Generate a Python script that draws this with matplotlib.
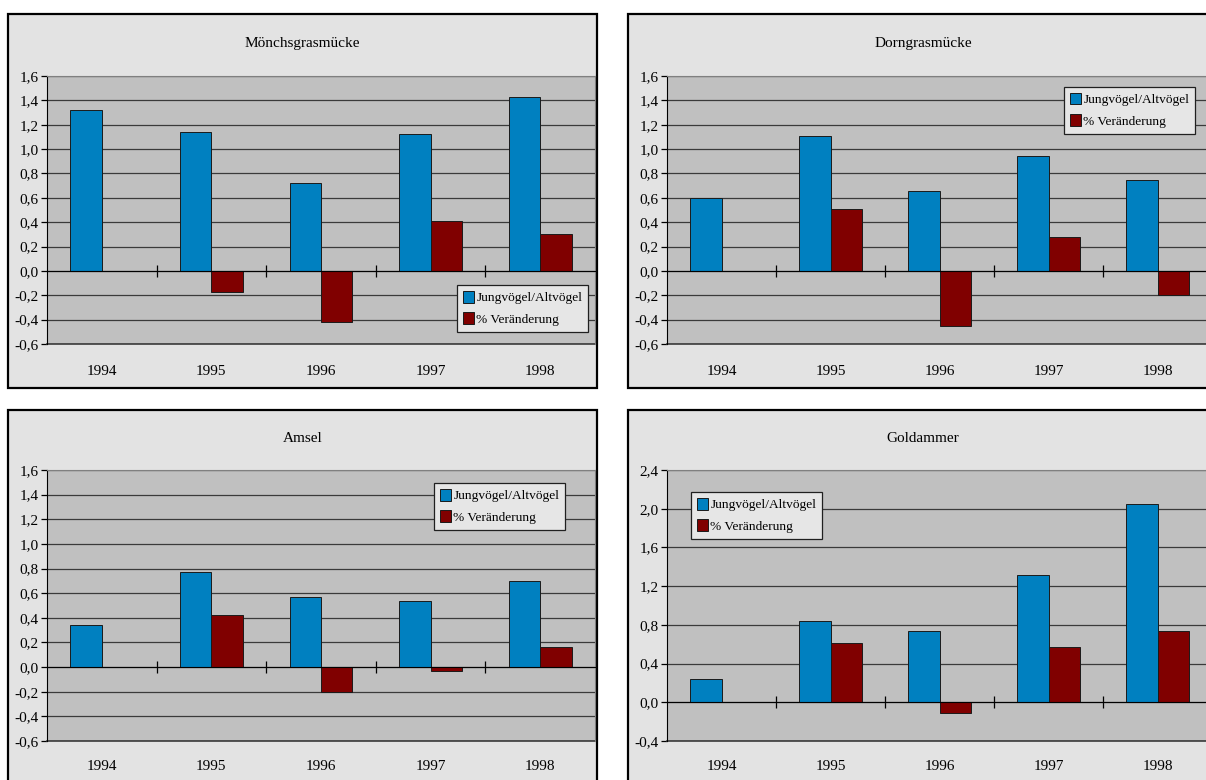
import numpy as np
import matplotlib.pyplot as plt
from matplotlib.patches import Rectangle

plt.rcParams['font.family'] = ['Liberation Serif', 'DejaVu Serif']
plt.rcParams['font.size'] = 11

# data
years = ['1994', '1995', '1996', '1997', '1998']
series_names = ['Jungvögel/Altvögel', '% Veränderung']

moench_ratio = [1.32, 1.14, 0.72, 1.12, 1.43]
moench_change = [np.nan, -0.17, -0.42, 0.41, 0.30]

dorn_ratio = [0.60, 1.11, 0.66, 0.94, 0.75]
dorn_change = [np.nan, 0.51, -0.45, 0.28, -0.20]

amsel_ratio = [0.34, 0.77, 0.57, 0.54, 0.70]
amsel_change = [np.nan, 0.42, -0.20, -0.03, 0.16]

gold_ratio = [0.24, 0.84, 0.74, 1.31, 2.05]
gold_change = [np.nan, 0.61, -0.11, 0.57, 0.74]

ticks_a = [-0.6, -0.4, -0.2, 0.0, 0.2, 0.4, 0.6, 0.8, 1.0, 1.2, 1.4, 1.6]
labels_a = ['-0,6', '-0,4', '-0,2', '0,0', '0,2', '0,4', '0,6', '0,8',
            '1,0', '1,2', '1,4', '1,6']
ticks_b = [-0.4, 0.0, 0.4, 0.8, 1.2, 1.6, 2.0, 2.4]
labels_b = ['-0,4', '0,0', '0,4', '0,8', '1,2', '1,6', '2,0', '2,4']

BLUE = '#0080C0'
RED = '#800000'
CHART_BG = '#E3E3E3'
PLOT_BG = '#C0C0C0'
GRID = '#3a3a3a'

W, H = 1206, 780
fig = plt.figure(figsize=(W / 100, H / 100), dpi=100)
fig.patch.set_facecolor('white')


def fig_box(l, t, r, b):
    # pixel box (from top-left) -> figure fraction [x0, y0, w, h]
    return [l / W, 1 - b / H, (r - l) / W, (b - t) / H]


def draw_panel(title, ratio, change, ticks, ticklabels,
               frame, plot, title_y, legend_xy, label_pad):
    fl, ft, fr, fb = frame
    x0, y0, w, h = fig_box(*frame)
    fig.add_artist(Rectangle((x0, y0), w, h, transform=fig.transFigure,
                             facecolor=CHART_BG, edgecolor='black',
                             linewidth=1.6, zorder=-5))
    fig.text((fl + fr) / 2 / W, 1 - title_y / H, title,
             ha='center', va='center', fontsize=11)

    ax = fig.add_axes(fig_box(*plot))
    ax.set_facecolor(PLOT_BG)
    x = np.arange(len(years))
    bw = 1 / 3.5
    b1 = ax.bar(x - bw / 2, ratio, bw, color=BLUE, edgecolor='#1a1a1a',
                linewidth=0.7, zorder=3)
    b2 = ax.bar(x + bw / 2, change, bw, color=RED, edgecolor='#1a1a1a',
                linewidth=0.7, zorder=3)

    ax.set_xlim(-0.5, len(years) - 0.5)
    ax.set_ylim(ticks[0], ticks[-1])
    ax.set_yticks(ticks, ticklabels)
    ax.yaxis.grid(True, color=GRID, linewidth=0.9)
    ax.axhline(ticks[0], color=GRID, linewidth=1.2, clip_on=False)
    ax.set_axisbelow(True)
    ax.tick_params(axis='y', direction='out', length=4, width=0.9, pad=2)

    # category separators sit on the zero line
    ax.spines['bottom'].set_position(('data', 0))
    ax.spines['bottom'].set_zorder(4)
    ax.set_xticks(x[:-1] + 0.5)
    ax.tick_params(axis='x', direction='inout', length=9, width=0.9,
                   labelbottom=False)
    for s in ['top', 'right']:
        ax.spines[s].set_color('#808080')
        ax.spines[s].set_linewidth(0.8)

    sec = ax.secondary_xaxis('bottom')
    sec.set_xticks(x, years)
    sec.tick_params(length=0, pad=label_pad, labelsize=11)
    sec.spines['bottom'].set_visible(False)

    lx, ly = legend_xy
    leg = ax.legend([b1, b2], series_names, loc='upper left',
                    bbox_to_anchor=(lx / W, 1 - ly / H),
                    bbox_transform=fig.transFigure, borderaxespad=0,
                    fancybox=False, framealpha=1, facecolor='#E6E6E6',
                    edgecolor='#202020', fontsize=9.6, handlelength=0.8,
                    handleheight=0.95, handletextpad=0.2, borderpad=0.45,
                    labelspacing=0.6)
    leg.get_frame().set_linewidth(0.9)
    return ax


draw_panel('Mönchsgrasmücke', moench_ratio, moench_change, ticks_a, labels_a,
           frame=(8, 14, 597, 388), plot=(47, 76, 595, 344),
           title_y=43, legend_xy=(457, 285), label_pad=15)
draw_panel('Dorngrasmücke', dorn_ratio, dorn_change, ticks_a, labels_a,
           frame=(628, 14, 1218, 388), plot=(667, 76, 1212, 344),
           title_y=43, legend_xy=(1064, 87), label_pad=15)
draw_panel('Amsel', amsel_ratio, amsel_change, ticks_a, labels_a,
           frame=(8, 410, 597, 795), plot=(47, 470, 595, 741),
           title_y=438, legend_xy=(434, 483), label_pad=14)
draw_panel('Goldammer', gold_ratio, gold_change, ticks_b, labels_b,
           frame=(628, 410, 1218, 795), plot=(667, 470, 1212, 741),
           title_y=438, legend_xy=(691, 492), label_pad=14)

fig.savefig('out.png', dpi=100)
